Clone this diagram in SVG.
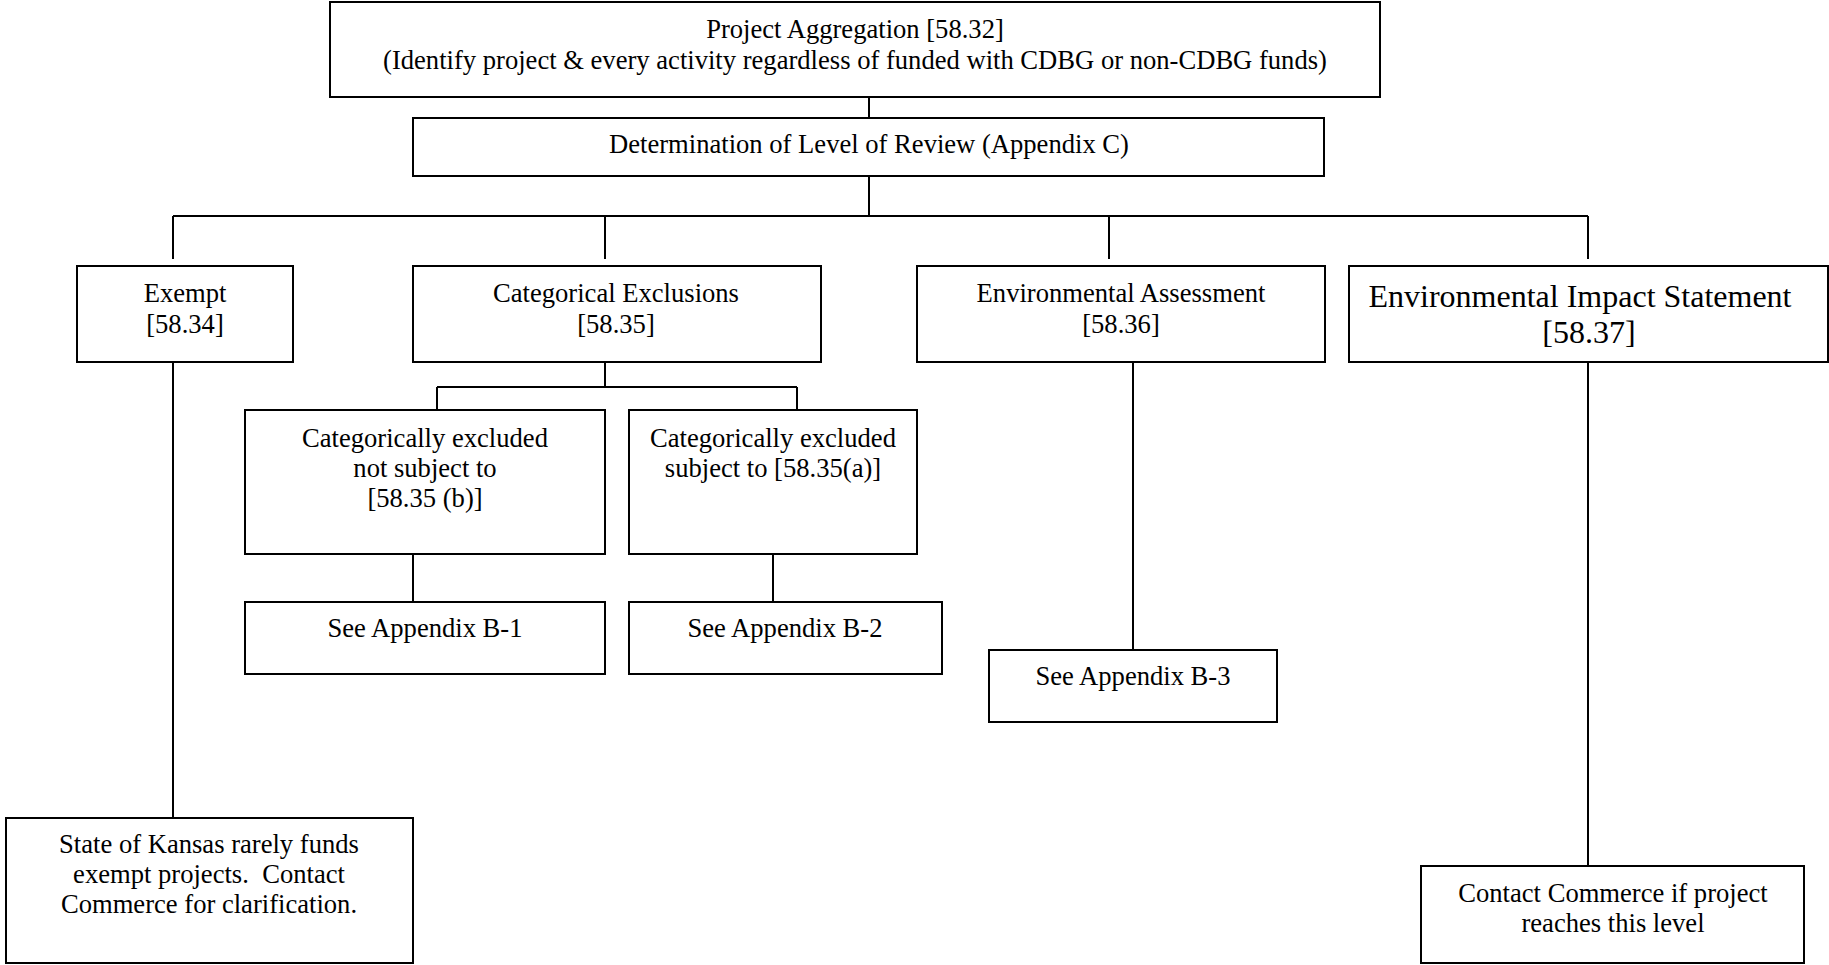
<svg xmlns="http://www.w3.org/2000/svg" width="1829" height="965" viewBox="0 0 1829 965">
<style>
.box{fill:#fff;stroke:#000;stroke-width:2}
.ln{fill:none;stroke:#000;stroke-width:2}
text{font-family:"Liberation Serif","Times New Roman",serif;font-size:26.6px;fill:#000;text-anchor:middle;white-space:pre}
.big{font-size:32px}
</style>
<rect width="1829" height="965" fill="#fff"/>
<g id="connectors">
<path class="ln" d="M869 96V118M869 176V216M173 216H1588M173 216V259M605 216V259M1109 216V259M1588 216V259"/>
<path class="ln" d="M605 362V387M437 387H797M437 387V410M797 387V410"/>
<path class="ln" d="M413 554V602M773 554V602"/>
<path class="ln" d="M173 362V818M1133 362V650M1588 362V866"/>
</g>
<g id="aggregation">
<rect class="box" x="330" y="2" width="1050" height="95"/>
<text x="855" y="38">Project Aggregation [58.32]</text>
<text x="855" y="69">(Identify project &amp; every activity regardless of funded with CDBG or non-CDBG funds)</text>
</g>
<g id="level">
<rect class="box" x="413" y="118" width="911" height="58"/>
<text x="869" y="153">Determination of Level of Review (Appendix C)</text>
</g>
<g id="exempt">
<rect class="box" x="77" y="266" width="216" height="96"/>
<text x="185" y="302">Exempt</text>
<text x="185" y="333">[58.34]</text>
</g>
<g id="catex">
<rect class="box" x="413" y="266" width="408" height="96"/>
<text x="616" y="302">Categorical Exclusions</text>
<text x="616" y="333">[58.35]</text>
</g>
<g id="ea">
<rect class="box" x="917" y="266" width="408" height="96"/>
<text x="1121" y="302">Environmental Assessment</text>
<text x="1121" y="333">[58.36]</text>
</g>
<g id="eis">
<rect class="box" x="1349" y="266" width="479" height="96"/>
<text class="big" x="1580" y="307">Environmental Impact Statement</text>
<text class="big" x="1589" y="343">[58.37]</text>
</g>
<g id="catex-not">
<rect class="box" x="245" y="410" width="360" height="144"/>
<text x="425" y="447">Categorically excluded</text>
<text x="425" y="477">not subject to</text>
<text x="425" y="507">[58.35 (b)]</text>
</g>
<g id="catex-sub">
<rect class="box" x="629" y="410" width="288" height="144"/>
<text x="773" y="447">Categorically excluded</text>
<text x="773" y="477">subject to [58.35(a)]</text>
</g>
<g id="b1">
<rect class="box" x="245" y="602" width="360" height="72"/>
<text x="425" y="637">See Appendix B-1</text>
</g>
<g id="b2">
<rect class="box" x="629" y="602" width="313" height="72"/>
<text x="785" y="637">See Appendix B-2</text>
</g>
<g id="b3">
<rect class="box" x="989" y="650" width="288" height="72"/>
<text x="1133" y="685">See Appendix B-3</text>
</g>
<g id="kansas">
<rect class="box" x="6" y="818" width="407" height="145"/>
<text x="209" y="853">State of Kansas rarely funds</text>
<text x="209" y="883">exempt projects.  Contact</text>
<text x="209" y="913">Commerce for clarification.</text>
</g>
<g id="contact">
<rect class="box" x="1421" y="866" width="383" height="97"/>
<text x="1613" y="902">Contact Commerce if project</text>
<text x="1613" y="932">reaches this level</text>
</g>
</svg>
